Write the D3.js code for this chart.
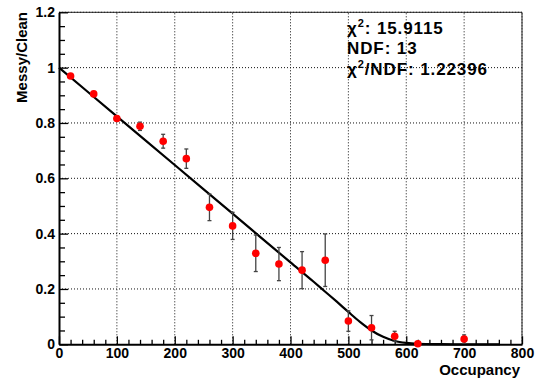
<!DOCTYPE html>
<html>
<head>
<meta charset="utf-8">
<script src="https://cdn.jsdelivr.net/npm/d3@7"></script>
<style>
  html, body { margin: 0; padding: 0; background: #fff; }
  svg { display: block; font-family: "Liberation Sans", Arial, Helvetica, sans-serif; font-weight: bold; }
</style>
</head>
<body>
<svg id="chart" width="538" height="380"></svg>
<script>
// ---- data ----
const occupancy = [20, 60, 100, 140, 180, 220, 260, 300, 340, 380, 420, 460, 500, 540, 580, 620, 700];
const ratio     = [0.970, 0.905, 0.816, 0.788, 0.734, 0.671, 0.495, 0.428, 0.329, 0.290, 0.268, 0.304, 0.084, 0.060, 0.029, 0.002, 0.019];
const ratioErr  = [0.004, 0.005, 0.008, 0.015, 0.025, 0.035, 0.048, 0.049, 0.066, 0.060, 0.067, 0.095, 0.037, 0.044, 0.018, 0.003, 0.015];

const fitX = [0, 100, 200, 300, 400, 440, 460, 480, 500, 520, 540, 560, 580, 600, 620, 660, 700, 762];
const fitY = [1.000, 0.824, 0.648, 0.472, 0.296, 0.226, 0.190, 0.154, 0.117, 0.081, 0.050, 0.027, 0.012, 0.005, 0.002, 0.0005, 0.000, 0.000];

const xMajorTicks = [0, 100, 200, 300, 400, 500, 600, 700, 800];
const yMajorTicks = [0, 0.2, 0.4, 0.6, 0.8, 1, 1.2];

const statsLines = [
  { chi: true,  rest: ": 15.9115" },
  { chi: false, rest: "NDF: 13" },
  { chi: true,  rest: "/NDF: 1.22396" }
];

// ---- layout ----
const svg = d3.select("#chart");
const pLeft = 59, pRight = 522, pTop = 12.3, pBottom = 344.3;

const x = d3.scaleLinear().domain([0, 800]).range([pLeft, pRight]);
const y = d3.scaleLinear().domain([0, 1.2]).range([pBottom, pTop]);

// grid
const grid = svg.append("g");
grid.selectAll("line.vg").data(xMajorTicks.filter(d => d > 0))
  .join("line")
  .attr("x1", d => x(d)).attr("x2", d => x(d))
  .attr("y1", pBottom).attr("y2", pTop)
  .attr("stroke", "#111").attr("stroke-width", 1).attr("stroke-dasharray", "1,2");
grid.selectAll("line.hg").data(yMajorTicks.filter(d => d > 0))
  .join("line")
  .attr("x1", pLeft).attr("x2", pRight)
  .attr("y1", d => y(d)).attr("y2", d => y(d))
  .attr("stroke", "#111").attr("stroke-width", 1).attr("stroke-dasharray", "1,2");

// frame (top / right)
svg.append("path")
  .attr("d", `M${pLeft},${pTop}H${pRight}V${pBottom}`)
  .attr("fill", "none").attr("stroke", "#222").attr("stroke-width", 1);

// minor tick values
const xMinor = d3.range(0, 801, 20).filter(v => v % 100 !== 0);
const yMinor = d3.range(0, 1.2001, 0.05).map(v => +v.toFixed(2)).filter(v => Math.abs(v / 0.2 - Math.round(v / 0.2)) > 1e-6);

// x axis
const xAxisG = svg.append("g").attr("transform", `translate(0,${pBottom})`);
xAxisG.call(d3.axisBottom(x).tickValues(xMajorTicks).tickSizeInner(-8).tickSizeOuter(0).tickPadding(4).tickFormat(d3.format("d")));
const xMinorG = svg.append("g").attr("transform", `translate(0,${pBottom})`);
xMinorG.call(d3.axisBottom(x).tickValues(xMinor).tickSizeInner(-4.5).tickSizeOuter(0).tickFormat(""));
xMinorG.select(".domain").remove();

// y axis
const yAxisG = svg.append("g").attr("transform", `translate(${pLeft},0)`);
yAxisG.call(d3.axisLeft(y).tickValues(yMajorTicks).tickSizeInner(-9).tickSizeOuter(0).tickPadding(4).tickFormat(d3.format("")));
const yMinorG = svg.append("g").attr("transform", `translate(${pLeft},0)`);
yMinorG.call(d3.axisLeft(y).tickValues(yMinor).tickSizeInner(-6).tickSizeOuter(0).tickFormat(""));
yMinorG.select(".domain").remove();

[xAxisG, yAxisG].forEach(g => {
  g.select(".domain").attr("stroke", "#000").attr("stroke-width", 2);
  g.selectAll(".tick line").attr("stroke", "#000").attr("stroke-width", 1.3);
  g.selectAll(".tick text").attr("font-size", 14).attr("font-weight", "bold").attr("fill", "#000")
    .attr("font-family", "'Liberation Sans', Arial, sans-serif");
});
[xMinorG, yMinorG].forEach(g => g.selectAll(".tick line").attr("stroke", "#000").attr("stroke-width", 1.3));

// axis titles
svg.append("text")
  .attr("x", 520).attr("y", 374.5).attr("text-anchor", "end")
  .attr("font-size", 15).attr("font-weight", "bold").text("Occupancy");
svg.append("text")
  .attr("transform", "translate(26.5,12) rotate(-90)")
  .attr("text-anchor", "end")
  .attr("font-size", 15).attr("font-weight", "bold").text("Messy/Clean");

// fit curve
const fitPts = fitX.map((v, i) => [v, fitY[i]]);
svg.append("path")
  .datum(fitPts)
  .attr("fill", "none").attr("stroke", "#000").attr("stroke-width", 2.2)
  .attr("d", d3.line().x(d => x(d[0])).y(d => y(d[1])).curve(d3.curveMonotoneX));

// error bars
const pts = occupancy.map((v, i) => ({ x: v, y: ratio[i], e: ratioErr[i] }));
const eb = svg.append("g").attr("stroke", "#444").attr("stroke-width", 1.3);
eb.selectAll("line.bar").data(pts).join("line")
  .attr("x1", d => x(d.x)).attr("x2", d => x(d.x))
  .attr("y1", d => y(Math.max(0, d.y - d.e))).attr("y2", d => y(d.y + d.e));
eb.selectAll("line.capt").data(pts).join("line")
  .attr("x1", d => x(d.x) - 2).attr("x2", d => x(d.x) + 2)
  .attr("y1", d => y(d.y + d.e)).attr("y2", d => y(d.y + d.e));
eb.selectAll("line.capb").data(pts.filter(d => d.y - d.e > 0)).join("line")
  .attr("x1", d => x(d.x) - 2).attr("x2", d => x(d.x) + 2)
  .attr("y1", d => y(d.y - d.e)).attr("y2", d => y(d.y - d.e));

// markers
svg.append("g").selectAll("circle").data(pts).join("circle")
  .attr("cx", d => x(d.x)).attr("cy", d => y(d.y)).attr("r", 3.8)
  .attr("fill", "#ff0000");

// stats text
const stats = svg.append("g").attr("font-size", 17).attr("font-weight", "bold").attr("letter-spacing", "0.9px");
statsLines.forEach((ln, i) => {
  const t = stats.append("text").attr("x", 347).attr("y", 33.5 + i * 20.8);
  if (ln.chi) {
    t.append("tspan").text("\u03c7");
    t.append("tspan").attr("font-size", 11).attr("dy", -7).text("2");
    t.append("tspan").attr("dy", 7).text(ln.rest);
  } else {
    t.append("tspan").text(ln.rest);
  }
});
</script>
</body>
</html>
